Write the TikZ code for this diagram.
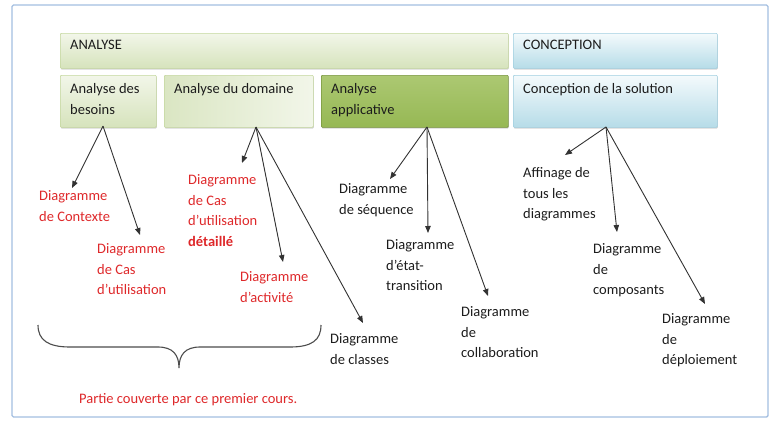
\documentclass[tikz,border=0pt]{standalone}
\usepackage{fontspec}
\setmainfont{Carlito}
\usetikzlibrary{arrows.meta,shadows}
\definecolor{frameblue}{RGB}{163,190,224}
\definecolor{gtop}{RGB}{242,246,233}
\definecolor{gbot}{RGB}{214,227,188}
\definecolor{gline}{RGB}{196,215,158}
\definecolor{dtop}{RGB}{172,200,114}
\definecolor{dbot}{RGB}{150,184,84}
\definecolor{dline}{RGB}{118,148,60}
\definecolor{btop}{RGB}{244,250,252}
\definecolor{bbot}{RGB}{182,220,232}
\definecolor{bline}{RGB}{160,207,224}
\definecolor{redtxt}{RGB}{222,40,42}
\definecolor{darktxt}{RGB}{28,28,28}
\definecolor{arrowc}{RGB}{50,50,50}
\begin{document}
\begin{tikzpicture}[x=1pt,y=-1pt,
  frame/.style={draw=frameblue,line width=1.4pt,rounded corners=1.5pt},
  boxbase/.style={anchor=north west,inner sep=0pt,rounded corners=1pt,line width=0.6pt,
    drop shadow={shadow xshift=0.5pt,shadow yshift=-1.3pt,opacity=0.3,fill=black!55}},
  greenbox/.style={boxbase,top color=gtop,bottom color=gbot,draw=gline},
  domainbox/.style={boxbase,left color=gbot!85!gtop,right color=gtop,draw=gline},
  darkbox/.style={boxbase,top color=dtop,bottom color=dbot,draw=dline},
  bluebox/.style={boxbase,top color=btop,bottom color=bbot,draw=bline},
  boxtxt/.style={anchor=north west,inner sep=0pt,align=left,text=darktxt,
    font=\fontsize{14.5}{20.5}\selectfont},
  redlbl/.style={anchor=north west,inner sep=0pt,align=left,text=redtxt,
    font=\fontsize{14.5}{20.5}\selectfont},
  blklbl/.style={anchor=north west,inner sep=0pt,align=left,text=darktxt,
    font=\fontsize{14.5}{20.5}\selectfont},
  arr/.style={draw=arrowc,line width=0.9pt,-{Triangle[length=7pt,width=5.5pt]}},
  bracec/.style={draw=black!70,line width=1.1pt}
]
\useasboundingbox (0,0) rectangle (776,426);
\draw[frame] (12,5) rectangle (768,417);

% boxes
\node[greenbox,minimum width=448pt,minimum height=35pt] (analyse) at (60,33) {};
\node[bluebox,minimum width=204pt,minimum height=35pt] (concep) at (513,33) {};
\node[greenbox,minimum width=96pt,minimum height=52pt] (besoins) at (60,75) {};
\node[domainbox,minimum width=149pt,minimum height=52pt] (domaine) at (164,75) {};
\node[darkbox,minimum width=187pt,minimum height=52pt] (applic) at (321,75) {};
\node[bluebox,minimum width=204pt,minimum height=52pt] (solution) at (513,75) {};

% box texts
\node[boxtxt] (tanalyse) at (70,35.3) {\strut ANALYSE};
\node[boxtxt] (tconcep) at (523,35.3) {\strut CONCEPTION};
\node[boxtxt] (tbesoins) at (70,79.3) {\strut Analyse des\\besoins};
\node[boxtxt] (tdomaine) at (174,79.3) {\strut Analyse du domaine};
\node[boxtxt] (tapplic) at (331,79.3) {\strut Analyse\\applicative};
\node[boxtxt] (tsolution) at (523,79.3) {\strut Conception de la solution};

% labels
\node[redlbl] (ctx) at (39,186.3) {\strut Diagramme\\de Contexte};
\node[redlbl] (cas) at (97,239.3) {\strut Diagramme\\de Cas\\d’utilisation};
\node[redlbl] (casd) at (188,170.3) {\strut Diagramme\\de Cas\\d’utilisation\\\textbf{détaillé}};
\node[redlbl] (act) at (240,267.3) {\strut Diagramme\\d’activité};
\node[blklbl] (cls) at (330,329.3) {\strut Diagramme\\de classes};
\node[blklbl] (seq) at (339,179.3) {\strut Diagramme\\de séquence};
\node[blklbl] (etat) at (386,235.3) {\strut Diagramme\\d’état-\\transition};
\node[blklbl] (coll) at (461,302.3) {\strut Diagramme\\de\\collaboration};
\node[blklbl] (aff) at (523,163.3) {\strut Affinage de\\tous les\\diagrammes};
\node[blklbl] (comp) at (593,239.3) {\strut Diagramme\\de\\composants};
\node[blklbl] (depl) at (662,309.3) {\strut Diagramme\\de\\déploiement};

% arrow coordinates
\coordinate (o1) at (103,126);
\coordinate (t1a) at (72,188);
\coordinate (t1b) at (140,235);
\coordinate (o2) at (256,127);
\coordinate (t2a) at (242,163);
\coordinate (t2b) at (283,262);
\coordinate (t2c) at (363,323);
\coordinate (o3) at (427,127);
\coordinate (t3a) at (390,179);
\coordinate (t3b) at (428,233);
\coordinate (t3c) at (488,296);
\coordinate (o4) at (606,127);
\coordinate (t4a) at (565,155);
\coordinate (t4b) at (617,232);
\coordinate (t4c) at (705,304);

\draw[arr] (o1) -- (t1a);
\draw[arr] (o1) -- (t1b);
\draw[arr] (o2) -- (t2a);
\draw[arr] (o2) -- (t2b);
\draw[arr] (o2) -- (t2c);
\draw[arr] (o3) -- (t3a);
\draw[arr] (o3) -- (t3b);
\draw[arr] (o3) -- (t3c);
\draw[arr] (o4) -- (t4a);
\draw[arr] (o4) -- (t4b);
\draw[arr] (o4) -- (t4c);

% brace
\draw[bracec] (38,325) .. controls (38,340) and (48,347) .. (70,347) -- (158,347)
  .. controls (173,347) and (179,355) .. (179,368)
  .. controls (179,355) and (185,347) .. (200,347) -- (290,347)
  .. controls (312,347) and (321,340) .. (321,325);

\node[redlbl,anchor=base west] (partie) at (79,403) {Partie couverte par ce premier cours.};
\end{tikzpicture}
\end{document}
